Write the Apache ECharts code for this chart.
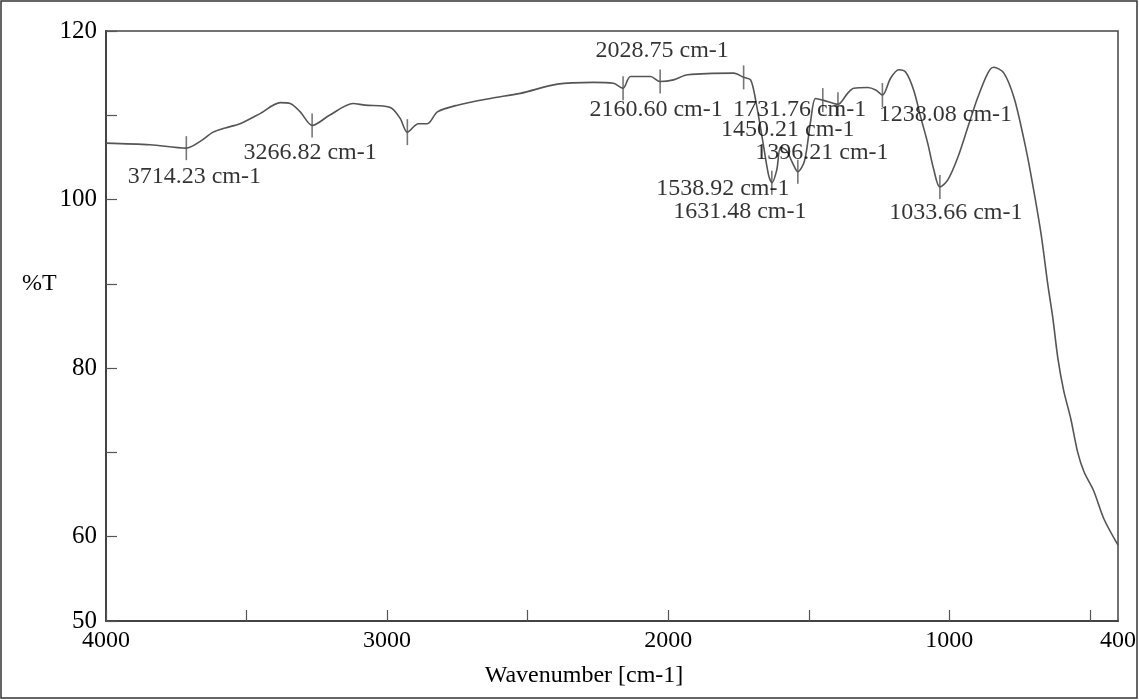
<!DOCTYPE html>
<html>
<head>
<meta charset="utf-8">
<script src="https://cdn.jsdelivr.net/npm/echarts@6/dist/echarts.min.js"></script>
<style>
html,body{margin:0;padding:0;background:#fff;}
#chart{width:1139px;height:700px;}
</style>
</head>
<body>
<div id="chart"></div>
<script>
// ---- data ----
const wavenumbers = [4000,3843,3714,3665,3619,3576,3523,3452,3380,3345,3309,3266,3205,3121,3078,3014,2982,2953,2928,2889,2857,2821,2750,2633,2526,2394,2266,2195,2161,2134,2063,2029,1981,1931,1767,1732,1707,1689,1664,1643,1631,1614,1600,1579,1557,1539,1515,1493,1476,1450,1411,1396,1362,1340,1290,1262,1238,1209,1180,1155,1127,1102,1077,1055,1034,1006,970,934,899,863,842,806,770,735,710,674,650,632,614,593,568,544,521,486,450,400];
const transmittance = [106.7,106.5,106.1,106.9,108.0,108.5,109.0,110.2,111.5,111.4,110.4,108.8,110.0,111.4,111.2,111.1,110.8,109.6,108.0,109.0,109.0,110.4,111.2,112.0,112.6,113.7,113.9,113.8,113.2,114.6,114.6,114.0,114.2,114.8,115.0,114.5,114.2,111.8,107.0,102.9,102.0,103.5,106.2,105.8,104.3,103.3,104.6,109.4,112.0,111.8,111.4,111.3,112.6,113.2,113.3,113.0,112.4,114.4,115.4,115.1,113.0,109.8,106.7,103.5,101.5,102.3,105.0,108.6,112.1,115.0,115.7,115.0,112.1,107.2,103.0,96.0,90.0,86.0,81.2,77.3,74.0,70.1,67.7,65.4,62.1,59.0];

const peakWavenumbers = [3714.23,3266.82,2028.75,2160.60,1731.76,1450.21,1396.21,1538.92,1631.48,1238.08,1033.66];
const peakValues      = [106.1,108.8,114.0,113.2,114.5,111.8,111.3,103.3,102.0,112.4,101.5];
const unlabeledPeakWavenumbers = [2928];
const unlabeledPeakValues = [108.0];

const xTickValues = [4000,3500,3000,2500,2000,1500,1000,500];
const xTickLabels = [4000,3000,2000,1000,400];
const yTickLabels = [50,60,80,100,120];

// ---- styles (label offsets in px, same order as peaks) ----
const peakLabelOffsets = [[8,29],[-2,27],[2,-31],[33,21],[56,32],[-35,30],[-16,48],[-75,17],[-32,29],[63,20],[16,26]];

const FONT = "'Liberation Serif', 'Times New Roman', serif";
const lineData = wavenumbers.map((w,i)=>[w, transmittance[i]]);
const peakData = peakWavenumbers.map((w,i)=>({
  value:[w, peakValues[i]],
  label:{offset: peakLabelOffsets[i]}
}));
const unlabeledData = unlabeledPeakWavenumbers.map((w,i)=>[w, unlabeledPeakValues[i]]);

const chart = echarts.init(document.getElementById('chart'), null, {renderer:'canvas'});
chart.setOption({
  animation:false,
  backgroundColor:'#fff',
  grid:{left:106, right:21, top:31, bottom:79, show:true, borderColor:'#444', borderWidth:1.5},
  xAxis:{
    type:'value', inverse:true, min:400, max:4000,
    axisLine:{show:true, onZero:false, lineStyle:{color:'#444', width:2}},
    axisTick:{show:true, inside:true, length:11, customValues:xTickValues, lineStyle:{color:'#555', width:1.2}},
    axisLabel:{customValues:xTickLabels, formatter:v=>String(v), color:'#000', fontFamily:FONT, fontSize:24, margin:8},
    splitLine:{show:false}
  },
  yAxis:{
    type:'value', min:50, max:120, interval:10,
    axisLine:{show:true, lineStyle:{color:'#444', width:2}},
    axisTick:{show:true, inside:true, length:11, lineStyle:{color:'#555', width:1.2}},
    axisLabel:{customValues:yTickLabels, formatter:v=>String(v), color:'#000', fontFamily:FONT, fontSize:25, margin:9},
    splitLine:{show:false}
  },
  graphic:[
    {type:'rect', shape:{x:1, y:1, width:1136, height:697}, style:{fill:'none', stroke:'#333', lineWidth:1.5}, silent:true},
    {type:'text', x:22, y:272, style:{text:'%T', fill:'#000', font:"24px 'Liberation Serif', serif"}},
    {type:'text', x:584, y:664, style:{text:'Wavenumber [cm-1]', fill:'#000', font:"24px 'Liberation Serif', serif", textAlign:'center'}}
  ],
  series:[
    {
      type:'line', data:lineData, showSymbol:false, smooth:0.3,
      lineStyle:{color:'#555', width:1.6}, z:2
    },
    {
      type:'scatter', data:peakData, symbol:'rect', symbolSize:[1.6,24],
      itemStyle:{color:'#555'}, z:3,
      label:{show:true, position:'inside', color:'#000', fontFamily:FONT, fontSize:24,
        formatter:p=>p.value[0].toFixed(2)+' cm-1'}
    },
    {
      type:'scatter', data:unlabeledData, symbol:'rect', symbolSize:[1.6,26],
      itemStyle:{color:'#555'}, z:3
    }
  ]
});
</script>
</body>
</html>
